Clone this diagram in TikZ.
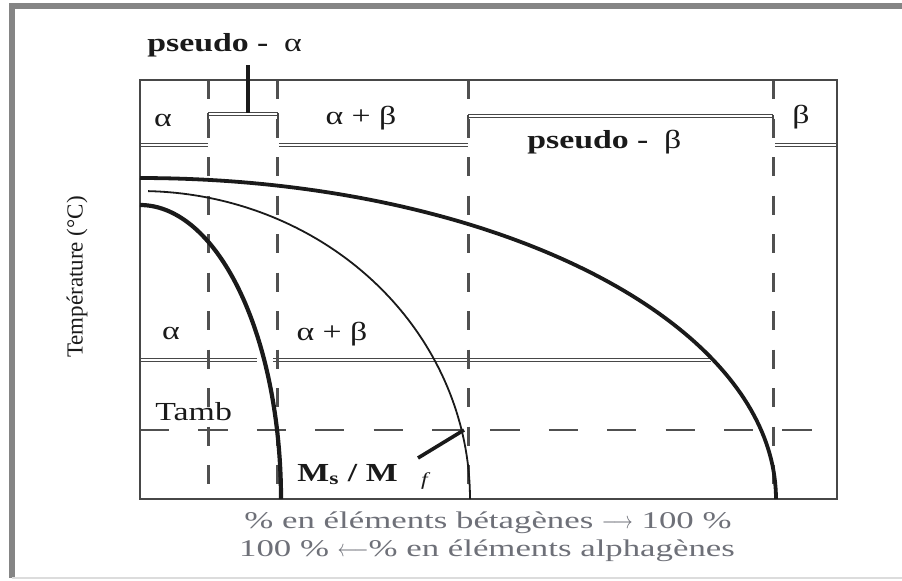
\documentclass[tikz,border=0pt]{standalone}
\usepackage{fontspec}
\setmainfont{Liberation Serif}[FakeStretch=1.3]
\newfontfamily\capfont{Liberation Serif}[FakeStretch=1.45]
\newfontfamily\axfont{Liberation Serif}
\usepackage{xcolor}
\usetikzlibrary{arrows.meta,positioning,calc}
\definecolor{dgInk}{HTML}{1A1A1A}
\definecolor{dgLine}{HTML}{474747}
\definecolor{dgDash}{HTML}{505050}
\definecolor{dgFrame}{HTML}{858585}
\definecolor{dgFrameLt}{HTML}{DCDCDC}
\definecolor{dgCap}{HTML}{6E7078}
\newcommand{\capto}{\scalebox{0.8}[1]{$\longrightarrow$}}
\newcommand{\capfrom}{\scalebox{0.8}[1]{$\longleftarrow$}}
\tikzset{
  % outer frame and diagram box
  frameline/.style={draw=dgFrame,line width=2.8pt},
  boxline/.style={draw=dgLine,line width=0.9pt},
  % phase boundary (double line)
  phline/.style={draw=dgLine,line width=0.5pt,double=white,double distance=1.2pt},
  % solid ends of the pseudo brackets
  tick/.style={draw=dgLine,line width=1.4pt},
  % dashed composition limits / ambient temperature
  vdash/.style={draw=dgDash,line width=1.5pt,dash pattern=on 9.5pt off 9.75pt},
  hdash/.style={draw=dgDash,line width=0.9pt,dash pattern=on 14.6pt off 14.6pt},
  % transformation curves
  thickc/.style={draw=dgInk,line width=1.9pt},
  thinc/.style={draw=dgInk,line width=0.9pt},
  pointer/.style={draw=dgInk,line width=1.8pt},
  % labels
  phlbl/.style={font=\fontsize{13}{15}\selectfont,text=dgInk,inner sep=0pt},
  bphlbl/.style={font=\fontsize{13}{15}\selectfont\bfseries,text=dgInk,inner sep=0pt},
  caplbl/.style={font=\capfont\fontsize{12}{14}\selectfont,text=dgCap,inner sep=0pt},
  axlbl/.style={font=\axfont\fontsize{11.5}{14}\selectfont,text=dgInk,rotate=90,inner sep=0pt},
}

\begin{document}
\begin{tikzpicture}[x=0.5pt,y=-0.5pt]
  \useasboundingbox (0,0) rectangle (902,580);
  % frame
  \draw[frameline] (906,6) -- (12,6) -- (12,578);
  \draw[draw=dgFrameLt,line width=1pt] (12,578) -- (906,578);

  % phase boundaries
  \draw[phline] (140,145) -- (208,145);
  \draw[phline] (279,145) -- (468,145);
  \draw[phline] (775,145) -- (837,145);
  \draw[phline] (140,360) -- (257,360);
  \draw[phline] (273,360) -- (711,360);

  % pseudo-alpha and pseudo-beta brackets
  \draw[phline] (208,114) -- (278,114);
  \draw[tick] (208,113) -- (208,136) (278,113) -- (278,136);
  \draw[phline] (468,116) -- (773,116);
  \draw[tick] (468,115) -- (468,136) (773,115) -- (773,136);

  % composition limits and Tamb
  \foreach \xv in {208,277,468,773}
    \draw[vdash] (\xv,80) -- (\xv,499);
  \draw[hdash] (140,430) -- (822,430);

  \draw[boxline] (140,80) rectangle (837,499);

  % curves
  \draw[thickc] plot[domain=90:0,samples=90,variable=\t]
    ({140+636*cos(\t)},{499-321*sin(\t)});
  \draw[thinc] plot[domain=88.6:0,samples=90,variable=\t]
    ({140+330*cos(\t)},{499-308*sin(\t)});
  \draw[thickc,line width=2.1pt] plot[domain=90:0,samples=90,variable=\t]
    ({140+141*cos(\t)},{499-294*sin(\t)});

  % labels
  \node[bphlbl,anchor=base west] (pa) at (147,51) {pseudo -\hspace{0.6em}{\mdseries α}};
  \node[bphlbl,anchor=base west] (pb) at (527,148) {pseudo -\hspace{0.6em}{\mdseries β}};
  \node[phlbl] (a1) at (163,120) {α};
  \node[phlbl] (ab1) at (361,118) {α + β};
  \node[phlbl] (b1) at (801,117) {β};
  \node[phlbl] (a2) at (171,333) {α};
  \node[phlbl] (ab2) at (332,334) {α + β};
  \node[phlbl,anchor=base west] (tamb) at (155,420) {Tamb};
  \node[bphlbl,anchor=base west] (msmf) at (297,481)
    {M\textsubscript{s} / M\hspace{0.9em}\textsubscript{\mdseries\itshape f}};
  \node[axlbl] (temp) at (77,277) {Température (°C)};
  \node[caplbl,anchor=base] (cap1) at (488,528) {\% en éléments bétagènes \capto{} 100 \%};
  \node[caplbl,anchor=base] (cap2) at (487,556) {100 \% \capfrom\% en éléments alphagènes};

  % pointers
  \coordinate (paFoot) at (248,65);
  \coordinate (paTip) at (248,113);
  \draw[pointer] (paFoot) -- (paTip);
  \coordinate (mfFoot) at (418,458);
  \coordinate (mfTip) at (464,430);
  \draw[pointer] (mfFoot) -- (mfTip);
\end{tikzpicture}
\end{document}
